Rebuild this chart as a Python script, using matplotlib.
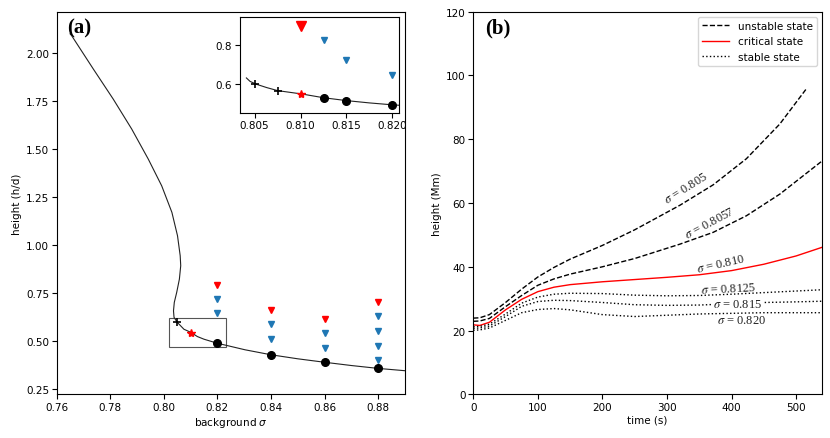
import matplotlib
matplotlib.use("Agg")
import matplotlib.pyplot as plt
from matplotlib.patches import Rectangle
from matplotlib.lines import Line2D

# ---------------- Panel (a) data ----------------
curve_sigma = [0.7650, 0.7656, 0.7737, 0.7811, 0.7880, 0.7942, 0.7992, 0.8030,
               0.8051, 0.8061, 0.8063, 0.8058, 0.8048, 0.8039, 0.8036, 0.8038,
               0.8050, 0.8075, 0.8102, 0.8125, 0.8150, 0.8200, 0.8303, 0.8400,
               0.8500, 0.8600, 0.8700, 0.8800, 0.8900]
curve_h = [2.102, 2.092, 1.918, 1.762, 1.606, 1.449, 1.310, 1.172,
           1.050, 0.946, 0.894, 0.824, 0.755, 0.703, 0.659, 0.625,
           0.599, 0.563, 0.546, 0.525, 0.511, 0.490, 0.456, 0.430,
           0.409, 0.391, 0.374, 0.359, 0.347]

dot_sigma = [0.82, 0.84, 0.86, 0.88]
dot_h = [0.493, 0.430, 0.391, 0.359]

red_tri_sigma = [0.82, 0.84, 0.86, 0.88]
red_tri_h = [0.795, 0.665, 0.616, 0.706]

blue_tri_sigma = [0.82, 0.82, 0.84, 0.84, 0.86, 0.86, 0.88, 0.88, 0.88, 0.88]
blue_tri_h = [0.720, 0.646, 0.589, 0.512, 0.542, 0.465, 0.630, 0.554, 0.477, 0.403]

plus_sigma_main = [0.805]
plus_h_main = [0.599]
star_sigma = [0.810]
star_h = [0.545]

# inset data
in_plus_sigma = [0.805, 0.8075]
in_plus_h = [0.597, 0.562]
in_dot_sigma = [0.8125, 0.815, 0.820]
in_dot_h = [0.525, 0.511, 0.489]
in_red_tri_sigma = [0.810]
in_red_tri_h = [0.903]
in_blue_tri_sigma = [0.8125, 0.815, 0.820]
in_blue_tri_h = [0.827, 0.725, 0.644]
in_curve_sigma = [0.8041, 0.8045, 0.8052, 0.8063, 0.8075, 0.8090, 0.8102, 0.8125,
                  0.8150, 0.8175, 0.8200, 0.8210]
in_curve_h = [0.630, 0.612, 0.597, 0.580, 0.564, 0.554, 0.546, 0.527,
              0.512, 0.500, 0.490, 0.487]

# ---------------- Panel (b) data ----------------
t_805 = [0, 10, 25, 50, 75, 100, 125, 150, 200, 250, 320, 371.5, 423, 474.8, 515]
h_805 = [23.9, 24.0, 25.0, 28.8, 33.0, 36.8, 39.8, 42.4, 46.7, 51.6, 59.3, 65.7, 73.9, 84.8, 95.6]
t_8057 = [0, 10, 25, 50, 75, 100, 125, 150, 200, 250, 320, 371.5, 423, 474.8, 539]
h_8057 = [22.9, 23.0, 23.8, 27.5, 31.0, 34.2, 36.2, 37.7, 40.0, 42.6, 47.1, 50.8, 56.0, 62.8, 73.0]
t_810 = [0, 10, 25, 50, 75, 100, 125, 150, 200, 250, 300, 350, 400, 450, 500, 540]
h_810 = [21.8, 21.6, 22.6, 26.5, 29.8, 32.2, 33.6, 34.4, 35.3, 36.0, 36.7, 37.5, 38.8, 40.8, 43.4, 46.1]
t_stable = [0, 10, 25, 50, 75, 100, 125, 150, 200, 250, 300, 350, 400, 450, 500, 540]
h_8125 = [21.2, 21.3, 22.0, 25.2, 28.6, 30.5, 31.4, 31.7, 31.6, 31.1, 30.9, 31.0, 31.4, 31.9, 32.4, 32.8]
h_815 = [20.7, 20.8, 21.4, 24.4, 27.6, 29.1, 29.5, 29.4, 28.8, 28.1, 27.9, 28.0, 28.4, 28.8, 29.0, 29.2]
h_820 = [20.1, 20.2, 20.8, 23.2, 25.6, 26.6, 26.9, 26.5, 25.0, 24.4, 24.8, 25.2, 25.4, 25.6, 25.6, 25.6]

label_texts = ["0.805", "0.8057", "0.810", "0.8125", "0.815", "0.820"]
label_t = [330, 367, 383, 395, 410, 416]
label_y = [64.8, 53.7, 40.9, 33.2, 28.3, 23.4]
label_rot = [32, 28, 13, 3, 0, 0]

legend_labels = ["unstable state", "critical state", "stable state"]

FS = 7.5
plt.rcParams['font.family'] = ['DejaVu Sans']
plt.rcParams['font.size'] = FS

fig = plt.figure(figsize=(8.30, 4.39), dpi=100)
axa = fig.add_axes([0.0683, 0.0995, 0.4196, 0.8715])
axb = fig.add_axes([0.5702, 0.0995, 0.4201, 0.8715])
axi = fig.add_axes([0.2888, 0.741, 0.1923, 0.2187])

# ---- panel (a)
axa.plot(curve_sigma, curve_h, color='#222222', lw=0.8)
axa.plot(dot_sigma, dot_h, 'o', color='black', ms=5.5)
axa.plot(red_tri_sigma, red_tri_h, 'v', color='red', ms=4.5)
axa.plot(blue_tri_sigma, blue_tri_h, 'v', color='#1f77b4', ms=4.5)
axa.plot(plus_sigma_main, plus_h_main, '+', color='black', ms=6, mew=1.2)
axa.plot(star_sigma, star_h, '*', color='red', ms=6)
axa.add_patch(Rectangle((0.8021, 0.472), 0.8231 - 0.8021, 0.620 - 0.472,
                        fill=False, edgecolor='#555555', lw=0.8))
axa.set_xlim(0.76, 0.89)
axa.set_ylim(0.224, 2.217)
axa.set_xticks([0.76, 0.78, 0.80, 0.82, 0.84, 0.86, 0.88])
axa.set_yticks([0.25, 0.50, 0.75, 1.00, 1.25, 1.50, 1.75, 2.00])
axa.set_xticklabels(["0.76", "0.78", "0.80", "0.82", "0.84", "0.86", "0.88"])
axa.set_yticklabels(["0.25", "0.50", "0.75", "1.00", "1.25", "1.50", "1.75", "2.00"])
axa.set_xlabel(r"background $\sigma$", fontsize=FS, labelpad=2)
axa.set_ylabel("height (h/d)", fontsize=FS, labelpad=3)
axa.text(0.03, 0.985, "(a)", transform=axa.transAxes, ha='left', va='top',
         fontsize=15, fontweight='bold', family='Liberation Serif')

# ---- inset
axi.plot(in_curve_sigma, in_curve_h, color='#222222', lw=0.8)
axi.plot(in_plus_sigma, in_plus_h, '+', color='black', ms=6, mew=1.2)
axi.plot(star_sigma, star_h, '*', color='red', ms=6)
axi.plot(in_dot_sigma, in_dot_h, 'o', color='black', ms=5.5)
axi.plot(in_red_tri_sigma, in_red_tri_h, 'v', color='red', ms=7)
axi.plot(in_blue_tri_sigma, in_blue_tri_h, 'v', color='#1f77b4', ms=5)
axi.set_xlim(0.80337, 0.82076)
axi.set_ylim(0.449, 0.949)
axi.set_xticks([0.805, 0.810, 0.815, 0.820])
axi.set_xticklabels(["0.805", "0.810", "0.815", "0.820"])
axi.set_yticks([0.6, 0.8])
axi.set_yticklabels(["0.6", "0.8"])

# ---- panel (b)
axb.plot(t_805, h_805, '--', color='black', lw=1.0)
axb.plot(t_8057, h_8057, '--', color='black', lw=1.0)
axb.plot(t_810, h_810, '-', color='red', lw=1.0)
axb.plot(t_stable, h_8125, ':', color='black', lw=1.0)
axb.plot(t_stable, h_815, ':', color='black', lw=1.0)
axb.plot(t_stable, h_820, ':', color='black', lw=1.0)
for txt, tx, ty, rot in zip(label_texts, label_t, label_y, label_rot):
    kw = {}
    if txt == "0.815":
        kw['bbox'] = dict(facecolor='white', edgecolor='none', pad=0.3)
    axb.text(tx, ty, r"$\sigma$ = " + txt, rotation=rot, ha='center', va='center',
             fontsize=9, family='Liberation Serif', math_fontfamily='stix',
             rotation_mode='anchor', color='#222222', **kw)
axb.set_xlim(0, 540)
axb.set_ylim(0, 120)
axb.set_xticks([0, 100, 200, 300, 400, 500])
axb.set_yticks([0, 20, 40, 60, 80, 100, 120])
axb.set_xlabel("time (s)", fontsize=FS, labelpad=2)
axb.set_ylabel("height (Mm)", fontsize=FS, labelpad=3)
axb.text(0.035, 0.985, "(b)", transform=axb.transAxes, ha='left', va='top',
         fontsize=15, fontweight='bold', family='Liberation Serif')
handles = [Line2D([], [], ls='--', color='black', lw=1.0),
           Line2D([], [], ls='-', color='red', lw=1.0),
           Line2D([], [], ls=':', color='black', lw=1.0)]
axb.legend(handles, legend_labels, loc='upper right', fontsize=FS,
           handlelength=2.6, framealpha=0.8)

for ax in (axa, axb, axi):
    ax.tick_params(labelsize=FS, length=3.5, width=0.8, pad=2)
    for s in ax.spines.values():
        s.set_linewidth(0.8)

fig.savefig("out.png", dpi=100)
